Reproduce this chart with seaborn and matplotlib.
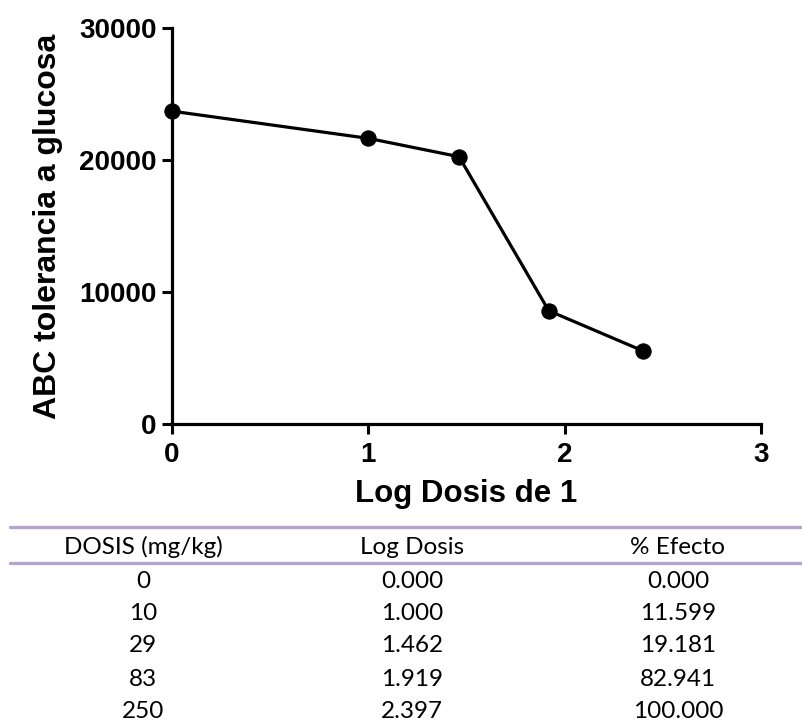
import matplotlib
matplotlib.use("Agg")
import matplotlib.pyplot as plt
from matplotlib.lines import Line2D
import seaborn as sns
import pandas as pd

# ---- data ----
log_dose = [0.000, 1.000, 1.462, 1.919, 2.397]
abc_glucose = [23700, 21640, 20250, 8580, 5550]

table_header = ["DOSIS (mg/kg)", "Log Dosis", "% Efecto"]
dose_mgkg = ["0", "10", "29", "83", "250"]
log_dose_txt = ["0.000", "1.000", "1.462", "1.919", "2.397"]
effect_pct = ["0.000", "11.599", "19.181", "82.941", "100.000"]

x_ticks = [0, 1, 2, 3]
y_ticks = [0, 10000, 20000, 30000]

sns.set_style("ticks")
plt.rcParams['font.family'] = ['Liberation Sans', 'DejaVu Sans']
plt.rcParams['text.color'] = 'black'
plt.rcParams['axes.labelcolor'] = 'black'
plt.rcParams['xtick.color'] = 'black'
plt.rcParams['ytick.color'] = 'black'

W, H = 803, 722
fig = plt.figure(figsize=(W / 100, H / 100), dpi=100)
ax = fig.add_axes([172 / W, 1 - 424 / H, (761 - 172) / W, (424 - 28) / H])

df = pd.DataFrame({"x": log_dose, "y": abc_glucose})
sns.lineplot(data=df, x="x", y="y", ax=ax, color="black", linewidth=2.3,
             marker="o", markersize=11, markeredgecolor="black",
             markerfacecolor="black", clip_on=False, zorder=5)

ax.set_xlim(0, 3)
ax.set_ylim(0, 30000)
ax.set_xticks(x_ticks)
ax.set_yticks(y_ticks)
ax.set_xticklabels([str(v) for v in x_ticks])
ax.set_yticklabels([str(v) for v in y_ticks])
for lab in ax.get_xticklabels() + ax.get_yticklabels():
    lab.set_fontweight("bold")
    lab.set_fontsize(20)
    lab.set_color("black")
ax.tick_params(axis="both", direction="out", length=7, width=2.2, color="black")
ax.tick_params(axis="x", pad=6)
ax.tick_params(axis="y", pad=4)

for side in ["top", "right"]:
    ax.spines[side].set_visible(False)
for side in ["left", "bottom"]:
    ax.spines[side].set_linewidth(2.3)
    ax.spines[side].set_color("black")

ax.set_xlabel("Log Dosis de 1", fontsize=22.5, fontweight="bold", labelpad=8, color="black")
ax.set_ylabel("ABC tolerancia a glucosa", fontsize=23, fontweight="bold", labelpad=12, color="black")

# ---- table below ----
line_color = "#b4a5cf"
for yy in [527, 563]:
    fig.add_artist(Line2D([10 / W, 1.0], [1 - yy / H, 1 - yy / H],
                          transform=fig.transFigure, color=line_color, linewidth=2.4))

col_x = [143 / W, 412 / W, 678 / W]
tfont = dict(family=["Lato", "DejaVu Sans"], fontsize=17.5, color="black",
             ha="center", va="center")
for cx, txt in zip(col_x, table_header):
    fig.text(cx, 1 - 547 / H, txt, **tfont)

row_y = [581, 614, 646, 679, 711]
for i, ry in enumerate(row_y):
    for cx, col in zip(col_x, [dose_mgkg, log_dose_txt, effect_pct]):
        fig.text(cx, 1 - ry / H, col[i], **tfont)

fig.savefig("out.png", dpi=100, facecolor="white")
